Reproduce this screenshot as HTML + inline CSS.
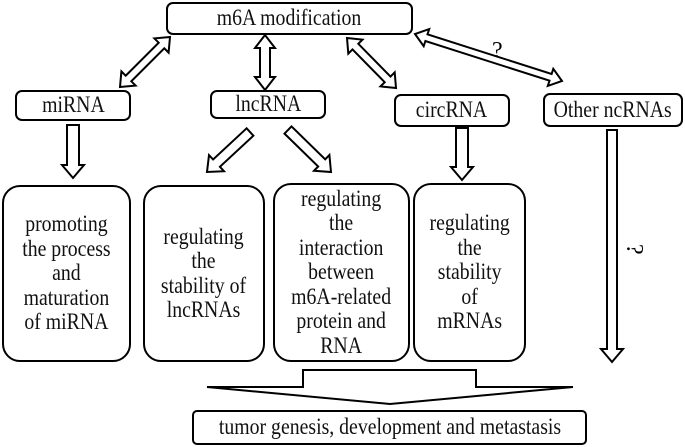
<!DOCTYPE html>
<html><head><meta charset="utf-8"><style>
body{margin:0;background:#fff;width:685px;height:447px;overflow:hidden;font-family:"Liberation Serif",serif;}
.b{position:absolute;border:2px solid #000;border-radius:7px;box-sizing:border-box;display:flex;align-items:center;justify-content:center;text-align:center;font-size:23px;line-height:24.5px;color:#111;white-space:nowrap}
.b span{display:inline-block;transform:scaleX(0.86)}
.t{border-radius:18px}
svg{position:absolute;left:0;top:0}
</style></head><body>
<div class="b" style="left:166px;top:2px;width:247px;height:33px"><span>m6A modification</span></div>
<div class="b" style="left:15px;top:90px;width:116px;height:31px"><span>miRNA</span></div>
<div class="b" style="left:210px;top:90px;width:116px;height:29px"><span>lncRNA</span></div>
<div class="b" style="left:394px;top:94px;width:116px;height:33px"><span>circRNA</span></div>
<div class="b" style="left:543px;top:93px;width:140px;height:34px"><span>Other ncRNAs</span></div>
<div class="b t" style="left:2px;top:185px;width:129px;height:177px"><span>promoting<br>the process<br>and<br>maturation<br>of miRNA</span></div>
<div class="b t" style="left:143px;top:185px;width:122px;height:177px"><span>regulating<br>the<br>stability of<br>lncRNAs</span></div>
<div class="b t" style="left:273px;top:183px;width:137px;height:179px"><span>regulating<br>the<br>interaction<br>between<br>m6A-related<br>protein and<br>RNA</span></div>
<div class="b t" style="left:413px;top:183px;width:113px;height:179px"><span>regulating<br>the<br>stability<br>of<br>mRNAs</span></div>
<div class="b" style="left:192px;top:410px;width:395px;height:35px;border-radius:5px"><span>tumor genesis, development and metastasis</span></div>
<svg width="685" height="447" id="s">
<polygon points="303,387 303,370 476,370 476,387 573,387 390,404 207,387" fill="#fff" stroke="#000" stroke-width="2"/>
<text x="492" y="58" font-size="24" font-family="Liberation Serif">?</text>
<text x="0" y="0" font-size="24" font-family="Liberation Serif" transform="translate(627,244) rotate(90)">?</text>
</svg>
<script>
var s=document.getElementById('s');
function arr(x1,y1,x2,y2,dbl,w,h,l){var dx=x2-x1,dy=y2-y1,L=Math.hypot(dx,dy),ux=dx/L,uy=dy/L,nx=-uy,ny=ux;
function P(t,o){return [(x1+ux*t+nx*o).toFixed(1),(y1+uy*t+ny*o).toFixed(1)].join(',')}
var pts=[];
if(dbl){pts.push(P(0,0),P(l,h),P(l,w));}else{pts.push(P(0,w));}
pts.push(P(L-l,w),P(L-l,h),P(L,0),P(L-l,-h),P(L-l,-w));
if(dbl){pts.push(P(l,-w),P(l,-h));}else{pts.push(P(0,-w));}
var p=document.createElementNS('http://www.w3.org/2000/svg','polygon');p.setAttribute('points',pts.join(' '));p.setAttribute('fill','#fff');p.setAttribute('stroke','#000');p.setAttribute('stroke-width','2');s.appendChild(p);}
arr(170,37,120,87,1,4,10,12);arr(265,35,265,90,1,5,10,13);arr(347,38,396,88,1,4,10,12);arr(415,34,562,81,1,3.5,9,12);
arr(73,125,73,178,0,6,11,13);arr(250,132,207,172,0,5,11,13);arr(288,130,331,172,0,5,11,13);arr(462,128,462,180,0,6,11,13);arr(612,130,612,362,0,5,11,13);
</script>
</body></html>
